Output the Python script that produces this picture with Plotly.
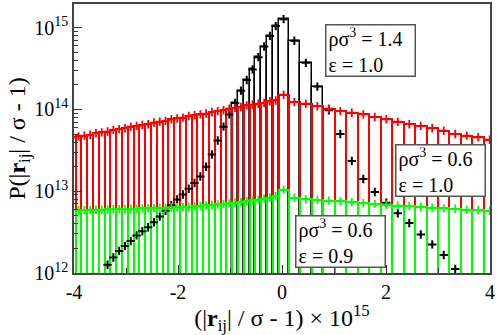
import numpy as np
import plotly.graph_objects as go

# bin edges in units of (|r_ij|/sigma - 1) x 1e15
bin_edges = [
    -4.079, -3.968, -3.856, -3.745, -3.633, -3.522, -3.410, -3.299, -3.187,
    -3.076, -2.964, -2.853, -2.741, -2.630, -2.518, -2.407, -2.295, -2.184,
    -2.072, -1.961, -1.849, -1.738, -1.626, -1.515, -1.403, -1.292, -1.180,
    -1.069, -0.957, -0.846, -0.734, -0.623, -0.511, -0.400, -0.288, -0.177,
    -0.065, 0.127, 0.348, 0.569, 0.790, 1.011, 1.232, 1.453, 1.674, 1.895,
    2.116, 2.337, 2.558, 2.779, 3.000, 3.221, 3.442, 3.663, 3.884, 4.105,
]

# log10 of P for each bin (rho sigma^3 = 0.6, eps = 1.0)
red_log = [
    13.66, 13.67, 13.68, 13.69, 13.71, 13.72, 13.73, 13.75, 13.76, 13.77,
    13.79, 13.80, 13.81, 13.82, 13.84, 13.85, 13.86, 13.88, 13.89, 13.90,
    13.92, 13.93, 13.94, 13.95, 13.97, 13.98, 13.99, 14.01, 14.02, 14.03,
    14.05, 14.06, 14.07, 14.08, 14.10, 14.11,
    14.18,
    14.09, 14.07, 14.04, 14.01, 13.98, 13.96, 13.94, 13.91, 13.88, 13.85,
    13.82, 13.80, 13.77, 13.74, 13.70, 13.68, 13.66, 13.63,
]

# log10 of P for each bin (rho sigma^3 = 0.6, eps = 0.9)
green_log = [
    12.765, 12.767, 12.769, 12.771, 12.773, 12.775, 12.777, 12.779, 12.781,
    12.783, 12.785, 12.787, 12.789, 12.791, 12.793, 12.795, 12.797, 12.800,
    12.803, 12.807, 12.811, 12.815, 12.820, 12.826, 12.832, 12.838, 12.845,
    12.852, 12.860, 12.868, 12.877, 12.887, 12.898, 12.910, 12.923, 12.940,
    13.020,
    12.920, 12.900, 12.895, 12.885, 12.875, 12.865, 12.855, 12.845, 12.835,
    12.825, 12.820, 12.810, 12.800, 12.790, 12.785, 12.775, 12.770, 12.760,
]

# log10 of P (rho sigma^3 = 1.4, eps = 1.0); None where nothing is drawn
black_log = [
    None, None, None, None, None, None,
    12.10, 12.19, 12.27, 12.33, 12.39, 12.46, 12.51, 12.56, 12.62, 12.69,
    12.76, 12.83, 12.90, 12.96, 13.03, 13.10, 13.18, 13.30, 13.45, 13.62,
    13.79, 13.94, 14.08, 14.23, 14.36, 14.49, 14.64, 14.77, 14.90, 15.02,
    15.105,
    14.84, 14.57, 14.28, 13.99, 13.70, 13.37, 13.15, 12.99, 12.86, 12.73,
    12.61, 12.47, 12.35, 12.22, 12.05, None, None, None,
]
# black outline only drawn for bins with edges between these
black_bar_range = (-0.957, 0.790)

tick_vals = [1e12, 1e13, 1e14, 1e15]
tick_text = ["10<sup>12</sup>", "10<sup>13</sup>", "10<sup>14</sup>", "10<sup>15</sup>"]

edges = np.array(bin_edges)
centers = (edges[:-1] + edges[1:]) / 2
widths = np.diff(edges)


def to_p(logs):
    return [None if v is None else 10 ** v for v in logs]


red = to_p(red_log)
green = to_p(green_log)
black = to_p(black_log)

in_bar = [(edges[i] >= black_bar_range[0] - 1e-6) and (edges[i + 1] <= black_bar_range[1] + 1e-6)
          for i in range(len(centers))]
bx = [c for c, m in zip(centers, in_bar) if m]
bw = [w for w, m in zip(widths, in_bar) if m]
by = [v for v, m in zip(black, in_bar) if m]

font = "Liberation Serif"
fig = go.Figure()

clear = "rgba(0,0,0,0)"
fig.add_trace(go.Bar(x=bx, y=by, width=bw, marker=dict(color=clear, line=dict(color="black", width=1.5))))
fig.add_trace(go.Bar(x=centers, y=red, width=widths, marker=dict(color=clear, line=dict(color="#ff0000", width=2.0))))
fig.add_trace(go.Bar(x=centers, y=green, width=widths, marker=dict(color=clear, line=dict(color="#00ff00", width=2.0))))

for ys, col, lw in [(black, "black", 2.0), (red, "#ff0000", 1.8), (green, "#00ff00", 1.8)]:
    fig.add_trace(go.Scatter(
        x=centers, y=ys, mode="markers",
        marker=dict(symbol="cross-thin", size=6, line=dict(color=col, width=lw)),
    ))

labels = [
    ("ρσ<sup>3</sup> = 1.4<br>ε = 1.0", 0.603, 0.926),
    ("ρσ<sup>3</sup> = 0.6<br>ε = 1.0", 0.772, 0.48),
    ("ρσ<sup>3</sup> = 0.6<br>ε = 0.9", 0.531, 0.214),
]
annotations = [
    dict(text=t, x=x, y=y, xref="paper", yref="paper", xanchor="left", yanchor="top",
         showarrow=False, align="left", bgcolor="white", bordercolor="#555555",
         borderwidth=1.5, borderpad=2, width=84, height=46,
         font=dict(family=font, size=20, color="black"))
    for t, x, y in labels
]

fig.update_layout(
    width=498, height=335,
    margin=dict(l=74, r=8, t=2, b=62),
    barmode="overlay", bargap=0,
    showlegend=False,
    plot_bgcolor="white", paper_bgcolor="white",
    font=dict(family=font, size=20, color="black"),
    annotations=annotations,
    xaxis=dict(
        range=[-4, 4], tickvals=[-4, -2, 0, 2, 4], ticktext=["-4", "-2", "0", "2", "4"],
        ticks="inside", ticklen=8, tickwidth=1.2, tickcolor="#333",
        minor=dict(tickvals=[-3, -1, 1, 3], ticks="inside", ticklen=5, tickwidth=1.2, tickcolor="#333"),
        showgrid=False, zeroline=False, showline=True, mirror=True,
        linecolor="#444", linewidth=1.5,
        title=dict(text="(|<b>r</b><sub>ij</sub>| / σ - 1) × 10<sup>15</sup>", standoff=8),
    ),
    yaxis=dict(
        type="log", range=[12, 15.29], tickvals=tick_vals, ticktext=tick_text,
        ticks="inside", ticklen=8, tickwidth=1.2, tickcolor="#333",
        minor=dict(tickvals=[k * 10 ** n for n in range(12, 16) for k in range(2, 10)],
                   ticks="inside", ticklen=4, tickwidth=1.2, tickcolor="#333"),
        showgrid=False, zeroline=False, showline=True, mirror=True,
        linecolor="#444", linewidth=1.5,
        title=dict(text="P(|<b>r</b><sub>ij</sub>| / σ - 1)", standoff=2),
    ),
)

# the page's default body margin would push the 498x335 figure out of the window
fig.write_html("out.html", config={"displayModeBar": False},
               post_script="document.body.style.margin = '0';")
